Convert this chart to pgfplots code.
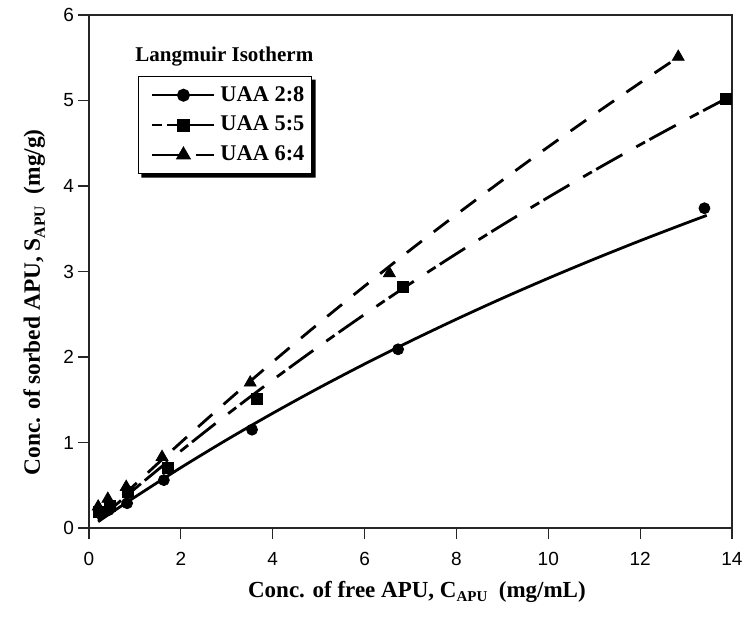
\documentclass[border=0pt]{standalone}
\usepackage{fontspec}
\setmainfont{Liberation Serif}
\newfontfamily\tickfont{Liberation Sans}
\usepackage{pgfplots}
\pgfplotsset{compat=1.18}

\begin{document}
\begin{tikzpicture}
\begin{axis}[
  scale only axis, width=321.5pt, height=256.5pt,
  at={(0pt,0pt)}, anchor=south west,
  xmin=0, xmax=14, ymin=0, ymax=6,
  xtick={0,2,...,14}, ytick={0,1,...,6},
  tick align=outside, tick pos=left, major tick length=5.5pt,
  axis line style={line width=0.6pt, black!85},
  tick style={line width=0.6pt, black!85},
  /pgf/number format/assume math mode=true,
  ticklabel style={font=\tickfont\fontsize{9.5}{11}\selectfont},
  xticklabel style={yshift=-3pt},
  yticklabel style={xshift=1.5pt},
  xlabel={Conc. of free APU, C\raisebox{-0.45ex}{\fontsize{7.5}{8}\selectfont APU}\ \ (mg/mL)},
  ylabel={Conc. of sorbed APU, S\raisebox{-0.45ex}{\fontsize{7.8}{9}\selectfont APU}\ \ (mg/g)},
  xlabel style={at={(axis description cs:0.51,-0.1345)}, anchor=base, font=\bfseries\fontsize{11.5}{13}\selectfont},
  ylabel style={at={(axis description cs:-0.0762,0.44)}, anchor=base, font=\bfseries\fontsize{11.7}{14}\selectfont},
  legend style={at={(axis description cs:0.076,0.881)}, anchor=north west,
    name=lgd,
    draw=black, line width=0.6pt, fill=white,
    font=\bfseries\fontsize{11.2}{13}\selectfont,
    nodes={inner sep=1pt},
    inner xsep=2.5pt, inner ysep=3.8pt, row sep=4pt, column sep=1.5pt,
    cells={anchor=west}},
  legend image code/.code={\path (-4pt,0pt); \draw[mark repeat=2,mark phase=2,#1] plot coordinates {(0pt,0pt) (15.5pt,0pt) (31pt,0pt)};},
]
% fitted curves
\addplot[line width=1.4pt, solid, smooth, forget plot] coordinates {
(0.2,0.074) (0.5,0.184) (1,0.362) (2,0.706) (3,1.032) (4,1.342) (5,1.637) (6,1.918)
(7,2.186) (8,2.442) (9,2.687) (10,2.921) (11,3.145) (12,3.360) (13,3.566) (13.45,3.656)};
\addplot[line width=1.4pt, dash pattern=on 15pt off 8pt on 5pt off 2.5pt, smooth, forget plot] coordinates {
(0.2,0.094) (0.5,0.232) (1,0.460) (2,0.901) (3,1.325) (4,1.731) (5,2.122) (6,2.498)
(7,2.860) (8,3.208) (9,3.544) (10,3.868) (11,4.181) (12,4.483) (13,4.775) (13.86,5.019)};
\addplot[line width=1.4pt, dash pattern=on 9.5pt off 7.5pt, smooth, forget plot] coordinates {
(0.2,0.103) (0.5,0.256) (1,0.508) (2,1.001) (3,1.479) (4,1.942) (5,2.392) (6,2.829)
(7,3.254) (8,3.666) (9,4.067) (10,4.458) (11,4.837) (12,5.207) (12.83,5.507)};
% data points
\addplot[only marks, mark=*, mark size=2.75pt, forget plot] coordinates {
(0.24,0.17) (0.43,0.21) (0.83,0.29) (1.63,0.56) (3.55,1.15) (6.73,2.09) (13.40,3.74)};
\addplot[only marks, mark=square*, mark size=2.75pt, forget plot] coordinates {
(0.22,0.19) (0.45,0.26) (0.85,0.42) (1.72,0.70) (3.66,1.51) (6.84,2.82) (13.86,5.02)};
\addplot[only marks, mark=triangle*, mark size=3.4pt, forget plot] coordinates {
(0.20,0.25) (0.41,0.34) (0.81,0.48) (1.59,0.83) (3.51,1.70) (6.54,2.98) (12.83,5.51)};
\addlegendimage{line width=1pt, solid, mark=*, mark size=2.75pt}
\addlegendentry{UAA 2:8}
\addlegendimage{line width=1pt, dash pattern=on 5pt off 2.5pt on 30pt off 0pt, mark=square*, mark size=2.75pt, mark options={solid}}
\addlegendentry{UAA 5:5}
\addlegendimage{line width=1pt, dash pattern=on 17pt off 5pt on 20pt off 0pt, mark=triangle*, mark size=3.4pt, mark options={solid}}
\addlegendentry{UAA 6:4}
\node[anchor=base west, inner sep=0pt, font=\bfseries\fontsize{10.5}{12}\selectfont] at (axis description cs:0.0715,0.910) {Langmuir Isotherm};
\end{axis}
\fill[black] ([xshift=1.8pt]lgd.south west) -- ([shift={(1.8pt,-1.8pt)}]lgd.south west)
  -- ([shift={(1.8pt,-1.8pt)}]lgd.south east) -- ([shift={(1.8pt,-1.8pt)}]lgd.north east)
  -- ([yshift=-1.8pt]lgd.north east) -- (lgd.south east) -- cycle;
\pgfresetboundingbox
\path[use as bounding box] (-44.5pt,-50pt) rectangle (328.5pt,264pt);
\end{tikzpicture}
\end{document}
